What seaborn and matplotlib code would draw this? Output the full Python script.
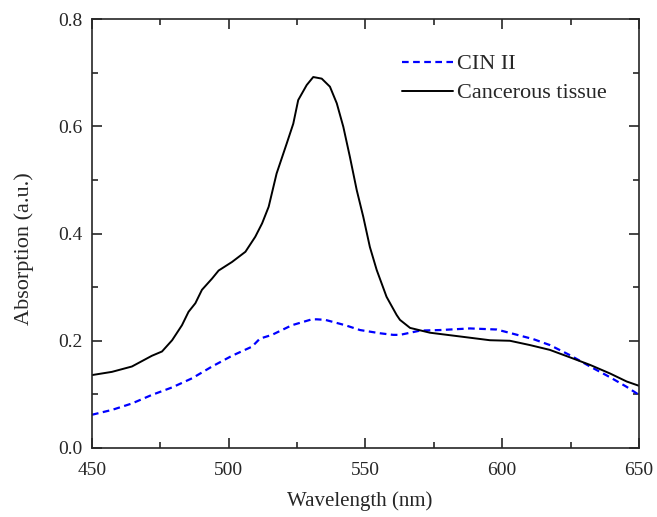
import pandas as pd
import numpy as np
import seaborn as sns
import matplotlib.pyplot as plt
from matplotlib.ticker import MultipleLocator

# values
cin_wl = [450, 457.3, 464.6, 471.9, 479.3, 486.6, 493.9, 501.2, 508.5, 511.4, 515.8, 523.1,
          530.4, 532.2, 535.3, 542.6, 548, 555.3, 560.1, 562.6, 570, 577.3, 588.2, 598,
          604, 611.4, 617.4, 624.8, 632.1, 639.4, 645.5, 650]
cin_abs = [0.062, 0.071, 0.083, 0.099, 0.113, 0.130, 0.152, 0.172, 0.189, 0.204, 0.211, 0.229,
           0.240, 0.240, 0.239, 0.229, 0.220, 0.214, 0.211, 0.211, 0.219, 0.220, 0.223, 0.221,
           0.213, 0.203, 0.192, 0.173, 0.152, 0.132, 0.114, 0.099]

cancer_wl = [450, 457.3, 464.6, 471.9, 475.6, 479.3, 482.9, 485.3, 487.8, 490.2, 493.9, 496.3,
             501.2, 506.1, 509.7, 512.2, 514.6, 517.5, 521.2, 523.6, 525.4, 528.5, 530.9,
             534, 537, 539.5, 541.9, 544.3, 546.8, 549.2, 551.6, 554.1, 557.7, 559, 561.4,
             562.6, 566.3, 573.6, 584.6, 595.5, 602.8, 610.1, 617.4, 624.8, 632.1, 639.4,
             645.5, 650]
cancer_abs = [0.136, 0.142, 0.152, 0.172, 0.180, 0.201, 0.229, 0.254, 0.270, 0.295, 0.316, 0.331,
              0.347, 0.366, 0.394, 0.419, 0.450, 0.512, 0.568, 0.605, 0.649, 0.677, 0.692,
              0.689, 0.674, 0.643, 0.599, 0.543, 0.481, 0.431, 0.375, 0.332, 0.282, 0.270, 0.248,
              0.239, 0.224, 0.215, 0.208, 0.201, 0.200, 0.192, 0.183, 0.169, 0.155, 0.139,
              0.124, 0.116]

cin = pd.DataFrame({'Wavelength': cin_wl, 'Absorption': cin_abs})
cancer = pd.DataFrame({'Wavelength': cancer_wl, 'Absorption': cancer_abs})

sns.set_style("ticks")
plt.rcParams['font.family'] = ['Liberation Serif', 'DejaVu Serif']

fig = plt.figure(figsize=(6.57, 5.17), dpi=100)
ax = fig.add_axes([0.140, 0.1335, 0.8326, 0.8295])

sns.lineplot(x='Wavelength', y='Absorption', data=cin, ax=ax, color='#0000ff',
             linewidth=1.6, linestyle=(0, (3, 2)), label='CIN II')
sns.lineplot(x='Wavelength', y='Absorption', data=cancer, ax=ax, color='black',
             linewidth=1.4, label='Cancerous tissue')

ax.set_xlim(450, 650)
ax.set_ylim(0, 0.8)
ax.xaxis.set_major_locator(MultipleLocator(50))
ax.xaxis.set_minor_locator(MultipleLocator(25))
ax.yaxis.set_major_locator(MultipleLocator(0.2))
ax.yaxis.set_minor_locator(MultipleLocator(0.1))
ax.tick_params(which='both', direction='in', top=True, right=True, width=1.2, labelsize=14)
ax.tick_params(axis='x', pad=10)
ax.tick_params(axis='y', pad=7)
ax.tick_params(which='major', length=7)
ax.tick_params(which='minor', length=4)
for s in ax.spines.values():
    s.set_linewidth(1.2)

ax.set_xlabel('Wavelength (nm)', fontsize=15)
ax.set_ylabel('Absorption (a.u.)', fontsize=16)
ax.xaxis.set_label_coords(0.49, -0.100)
ax.yaxis.set_label_coords(-0.106, 0.464)

leg = ax.legend(loc='upper left', bbox_to_anchor=(0.547, 0.945), frameon=False, fontsize=16,
                handlelength=2.3, handletextpad=0.18, labelspacing=0.38, borderpad=0)

fig.savefig('out.png', dpi=100)
